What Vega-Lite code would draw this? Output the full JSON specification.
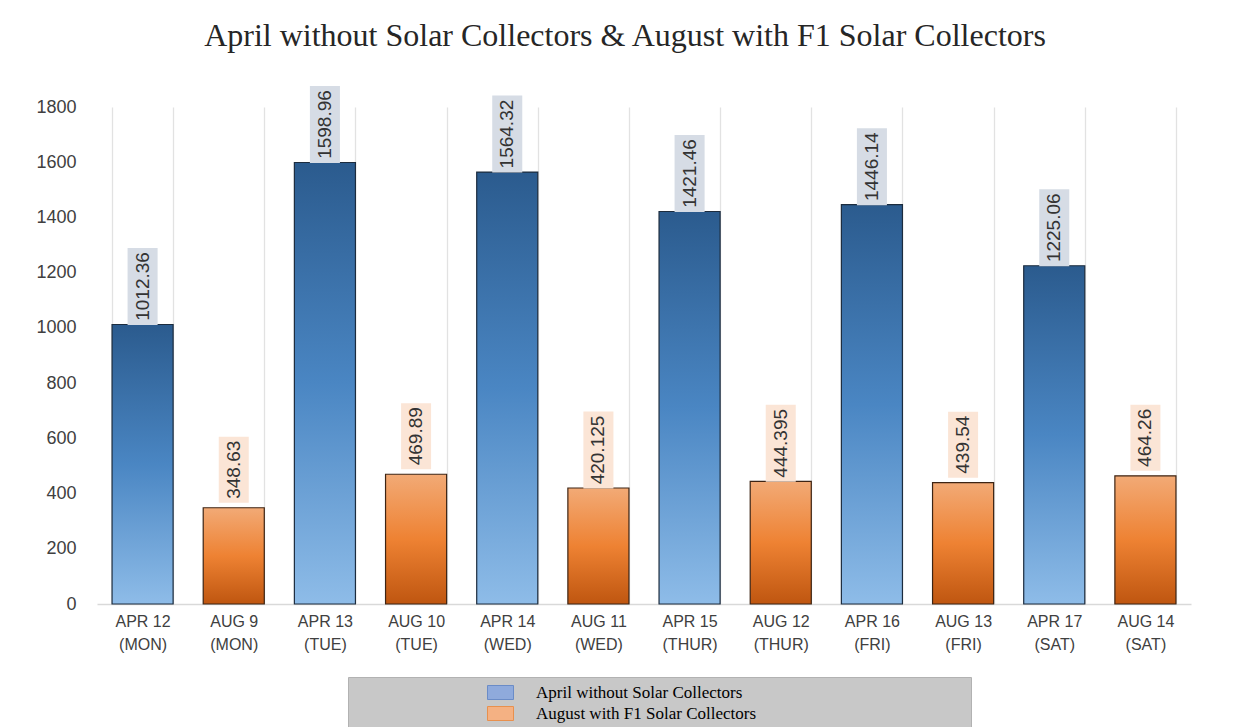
{
  "$schema": "https://vega.github.io/schema/vega-lite/v6.json",
  "width": 1094,
  "height": 497,
  "autosize": {"type": "none"},
  "padding": {"left": 97, "top": 107, "right": 47, "bottom": 123},
  "background": "white",
  "title": {
    "text": "April without Solar Collectors & August with F1 Solar Collectors",
    "font": "Liberation Serif",
    "fontSize": 32,
    "fontWeight": "normal",
    "color": "#262626",
    "anchor": "middle",
    "offset": 33,
    "dx": -19
  },
  "config": {
    "view": {"stroke": null},
    "legend": {"symbolOpacity": 1}
  },
  "data": {
    "values": [
      {"day": "APR 12|(MON)", "series": "April without Solar Collectors", "value": 1012.36, "label": "1012.36"},
      {"day": "AUG 9|(MON)", "series": "August with F1 Solar Collectors", "value": 348.63, "label": "348.63"},
      {"day": "APR 13|(TUE)", "series": "April without Solar Collectors", "value": 1598.96, "label": "1598.96"},
      {"day": "AUG 10|(TUE)", "series": "August with F1 Solar Collectors", "value": 469.89, "label": "469.89"},
      {"day": "APR 14|(WED)", "series": "April without Solar Collectors", "value": 1564.32, "label": "1564.32"},
      {"day": "AUG 11|(WED)", "series": "August with F1 Solar Collectors", "value": 420.125, "label": "420.125"},
      {"day": "APR 15|(THUR)", "series": "April without Solar Collectors", "value": 1421.46, "label": "1421.46"},
      {"day": "AUG 12|(THUR)", "series": "August with F1 Solar Collectors", "value": 444.395, "label": "444.395"},
      {"day": "APR 16|(FRI)", "series": "April without Solar Collectors", "value": 1446.14, "label": "1446.14"},
      {"day": "AUG 13|(FRI)", "series": "August with F1 Solar Collectors", "value": 439.54, "label": "439.54"},
      {"day": "APR 17|(SAT)", "series": "April without Solar Collectors", "value": 1225.06, "label": "1225.06"},
      {"day": "AUG 14|(SAT)", "series": "August with F1 Solar Collectors", "value": 464.26, "label": "464.26"}
    ]
  },
  "encoding": {
    "x": {
      "field": "day",
      "type": "nominal",
      "sort": ["APR 12|(MON)", "AUG 9|(MON)", "APR 13|(TUE)", "AUG 10|(TUE)", "APR 14|(WED)", "AUG 11|(WED)", "APR 15|(THUR)", "AUG 12|(THUR)", "APR 16|(FRI)", "AUG 13|(FRI)", "APR 17|(SAT)", "AUG 14|(SAT)"],
      "scale": {"paddingInner": 0.33, "paddingOuter": 0.165},
      "axis": {
        "title": null,
        "labelExpr": "isValid(datum.value) ? split(datum.value, '|') : ''",
        "labelAngle": 0,
        "labelFont": "Liberation Sans",
        "labelFontSize": 16,
        "labelColor": "#404040",
        "labelPadding": 9,
        "labelLineHeight": 23,
        "labelBaseline": "top",
        "ticks": false,
        "domainColor": "#d9d9d9",
        "domainWidth": 1.3,
        "grid": true,
        "gridColor": "#e2e2e2",
        "gridWidth": 1.3,
        "tickBand": "extent"
      }
    },
    "y": {
      "field": "value",
      "type": "quantitative",
      "scale": {"domain": [0, 1800], "nice": false},
      "axis": {
        "title": null,
        "values": [0, 200, 400, 600, 800, 1000, 1200, 1400, 1600, 1800],
        "format": "d",
        "grid": false,
        "domain": false,
        "ticks": false,
        "labelFont": "Liberation Sans",
        "labelFontSize": 18,
        "labelColor": "#404040",
        "labelPadding": 21
      }
    }
  },
  "layer": [
    {
      "transform": [{"filter": "datum.series == 'April without Solar Collectors'"}],
      "mark": {
        "type": "bar",
        "stroke": "#1c2c3e",
        "strokeWidth": 1.2,
        "color": {
          "gradient": "linear",
          "x1": 0, "y1": 0, "x2": 0, "y2": 1,
          "stops": [
            {"offset": 0, "color": "#2b5b8e"},
            {"offset": 0.5, "color": "#4a86c3"},
            {"offset": 1, "color": "#8ebce8"}
          ]
        }
      }
    },
    {
      "transform": [{"filter": "datum.series == 'August with F1 Solar Collectors'"}],
      "mark": {
        "type": "bar",
        "stroke": "#3d2414",
        "strokeWidth": 1.2,
        "color": {
          "gradient": "linear",
          "x1": 0, "y1": 0, "x2": 0, "y2": 1,
          "stops": [
            {"offset": 0, "color": "#f2aa76"},
            {"offset": 0.5, "color": "#ee8233"},
            {"offset": 1, "color": "#bf5610"}
          ]
        }
      }
    },
    {
      "mark": {"type": "bar", "opacity": 0, "strokeWidth": 1},
      "encoding": {
        "color": {
          "field": "series",
          "type": "nominal",
          "scale": {
            "domain": ["April without Solar Collectors", "August with F1 Solar Collectors"],
            "range": ["#8faadc", "#f4b183"]
          },
          "legend": {
            "orient": "none",
            "legendX": 251,
            "legendY": 570,
            "direction": "vertical",
            "title": " ",
            "titleOrient": "right",
            "titlePadding": 210,
            "fillColor": "#c8c8c8",
            "strokeColor": "#b2b2b2",
            "padding": 5,
            "symbolType": "M-1.3,-0.7H1.3V0.7H-1.3Z",
            "symbolSize": 400,
            "symbolOffset": 137,
            "symbolStrokeWidth": 1,
            "labelFont": "Liberation Serif",
            "labelFontSize": 17,
            "labelColor": "#000000",
            "labelOffset": 25,
            "labelLimit": 400,
            "rowPadding": 1
          }
        },
        "stroke": {
          "field": "series",
          "type": "nominal",
          "scale": {
            "domain": ["April without Solar Collectors", "August with F1 Solar Collectors"],
            "range": ["#6b8cc7", "#e8904e"]
          },
          "legend": {
            "orient": "none",
            "legendX": 251,
            "legendY": 570,
            "direction": "vertical",
            "title": " ",
            "titleOrient": "right",
            "titlePadding": 210,
            "fillColor": "#c8c8c8",
            "strokeColor": "#b2b2b2",
            "padding": 5,
            "symbolType": "M-1.3,-0.7H1.3V0.7H-1.3Z",
            "symbolSize": 400,
            "symbolOffset": 137,
            "symbolStrokeWidth": 1,
            "labelFont": "Liberation Serif",
            "labelFontSize": 17,
            "labelColor": "#000000",
            "labelOffset": 25,
            "labelLimit": 400,
            "rowPadding": 1
          }
        }
      }
    },
    {
      "mark": {"type": "point", "filled": true, "opacity": 1, "strokeWidth": 0},
      "encoding": {
        "shape": {
          "condition": {"test": "length(datum.label) == 7", "value": "M-0.39,-1H0.39V1H-0.39Z"},
          "value": "M-0.4545,-1H0.4545V1H-0.4545Z"
        },
        "size": {
          "condition": {"test": "length(datum.label) == 7", "value": 5929},
          "value": 4356
        },
        "yOffset": {
          "condition": {"test": "length(datum.label) == 7", "value": -43.5},
          "value": -38
        },
        "fill": {
          "condition": {"test": "datum.series == 'April without Solar Collectors'", "value": "#d6dce5"},
          "value": "#fbe5d6"
        }
      }
    },
    {
      "mark": {
        "type": "text",
        "angle": 270,
        "align": "center",
        "baseline": "middle",
        "font": "Liberation Sans",
        "fontSize": 19,
        "color": "#333333"
      },
      "encoding": {
        "text": {"field": "label"},
        "yOffset": {
          "condition": {"test": "length(datum.label) == 7", "value": -43.5},
          "value": -38
        }
      }
    }
  ]
}
